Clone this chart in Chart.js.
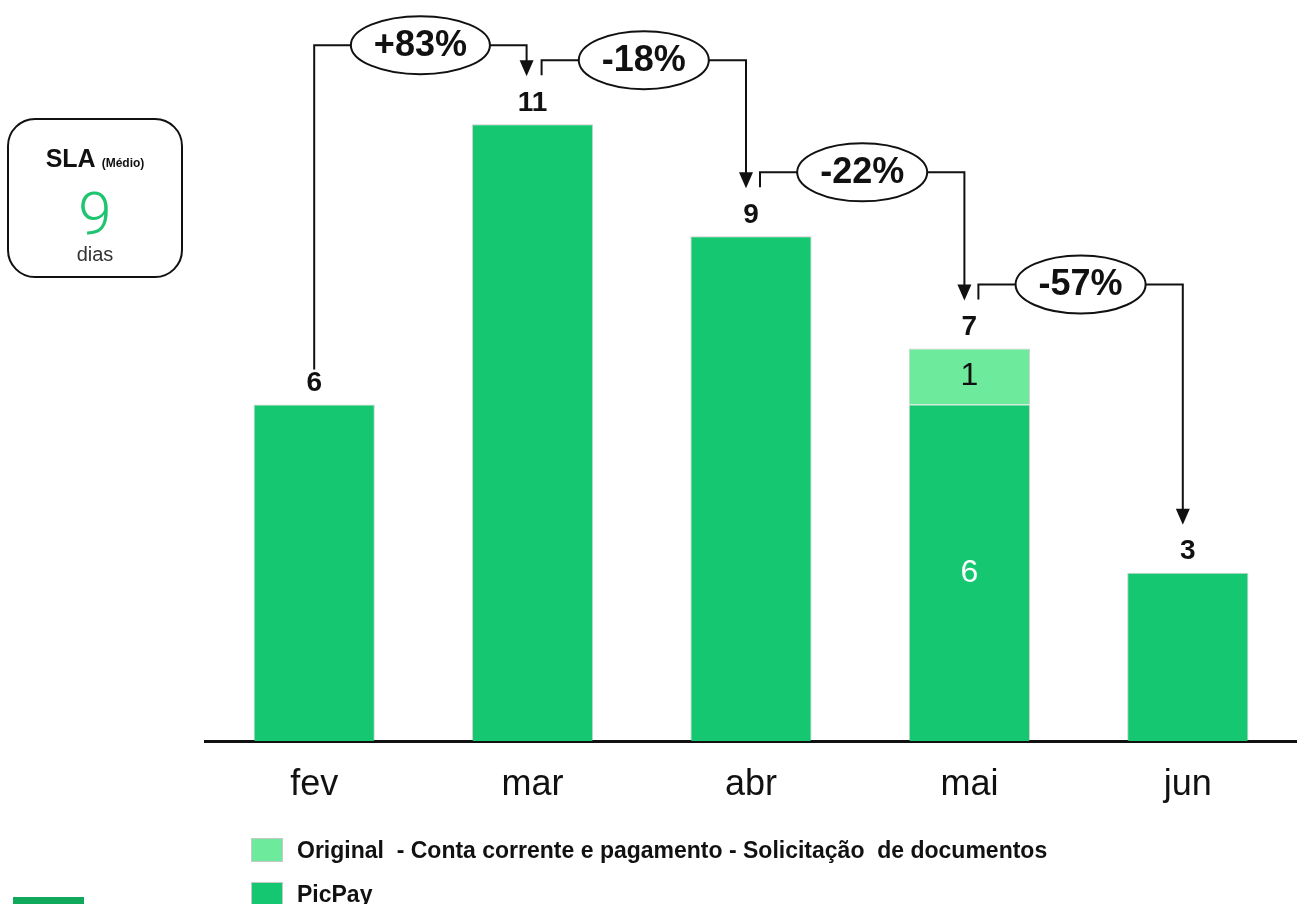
<!DOCTYPE html>
<html>
<head>
<meta charset="utf-8">
<script src="https://cdn.jsdelivr.net/npm/chart.js@4/dist/chart.umd.min.js"></script>
<style>
  body { margin: 0; background: #fff; font-family: "Liberation Sans", Arial, sans-serif; }
  #wrap { position: absolute; left: 0; top: 0; width: 1297px; height: 904px; overflow: hidden; }
  #chartBox { position: absolute; left: 0; top: 0; width: 1297px; height: 904px; }
  .sla { position: absolute; left: 7px; top: 118px; width: 172px; height: 156px; border: 2px solid #111; border-radius: 28px; text-align: center; }
  .sla .title { position: absolute; top: 24px; width: 100%; font-weight: bold; font-size: 25px; color: #111; }
  .sla .title small { font-size: 12px; }
  .sla .value { position: absolute; top: 64px; width: 100%; font-family: Roboto, sans-serif; font-weight: 300; font-size: 60px; color: #1ec46f; line-height: 60px; }
  .sla .unit { position: absolute; top: 123px; width: 100%; font-size: 20px; color: #333; }
  .legend { position: absolute; left: 251px; }
  .legend .sw { position: absolute; left: 0; width: 32px; height: 24px; box-sizing: border-box; border: 1px solid #c8c8c8; }
  .legend .txt { position: absolute; left: 46px; top: -1px; white-space: pre; font-weight: bold; font-size: 23px; color: #111; }
  .corner { position: absolute; left: 13px; top: 897px; width: 71px; height: 10px; background: #10a95c; }
</style>
</head>
<body>
<div id="wrap">
  <div id="chartBox"><canvas id="slaChart"></canvas></div>
  <div class="sla">
    <div class="title">SLA <small>(Médio)</small></div>
    <div class="value">9</div>
    <div class="unit">dias</div>
  </div>
  <div class="legend" style="top:838px"><div class="sw" style="background:#6eea9d"></div><div class="txt">Original  - Conta corrente e pagamento - Solicitação  de documentos</div></div>
  <div class="legend" style="top:882px"><div class="sw" style="background:#15c771"></div><div class="txt">PicPay</div></div>
  <div class="corner"></div>
</div>
<script>
const months = ["fev", "mar", "abr", "mai", "jun"];
const picpay = [6, 11, 9, 6, 3];
const original = [0, 0, 0, 1, 0];

const totals = picpay.map((v, i) => v + original[i]);

// draws totals, inner values and the % change connectors
const annotations = {
  id: "annotations",
  afterDatasetsDraw(chart) {
    const ctx = chart.ctx;
    const x = chart.scales.x;
    const y = chart.scales.y;
    const cx = months.map((m, i) => x.getPixelForValue(i));
    const labelY = totals.map((t) => y.getPixelForValue(t) - 21);

    ctx.save();
    ctx.textAlign = "center";
    ctx.textBaseline = "middle";
    ctx.fillStyle = "#111";
    ctx.font = "bold 28px 'Liberation Sans', Arial";
    totals.forEach((t, i) => ctx.fillText(t, cx[i], labelY[i]));

    // values inside split bars
    ctx.font = "32px 'Liberation Sans', Arial";
    months.forEach((m, i) => {
      if (!original[i]) return;
      ctx.fillStyle = "#fff";
      ctx.fillText(picpay[i], cx[i], y.getPixelForValue(picpay[i] / 2));
      ctx.fillStyle = "#111";
      ctx.fillText(original[i], cx[i], y.getPixelForValue(picpay[i] + original[i] / 2));
    });

    ctx.strokeStyle = "#111";
    ctx.fillStyle = "#111";
    ctx.lineWidth = 2;
    for (let i = 0; i < totals.length - 1; i++) {
      const up = totals[i + 1] > totals[i];
      let x0, y0, level;
      if (up) {
        x0 = cx[i];
        y0 = labelY[i] - 14;
        level = labelY[i + 1] - 58;
      } else {
        x0 = cx[i] + 9;
        y0 = labelY[i] - 28;
        level = labelY[i] - 43;
      }
      const x1 = cx[i + 1] - (up ? 6 : 5);
      const tip = labelY[i + 1] - 27;

      ctx.beginPath();
      ctx.moveTo(x0, y0);
      ctx.lineTo(x0, level);
      ctx.lineTo(x1, level);
      ctx.lineTo(x1, tip - 14);
      ctx.stroke();
      ctx.beginPath();
      ctx.moveTo(x1 - 7, tip - 16);
      ctx.lineTo(x1 + 7, tip - 16);
      ctx.lineTo(x1, tip);
      ctx.closePath();
      ctx.fill();

      const pct = Math.round(((totals[i + 1] - totals[i]) / totals[i]) * 100);
      const txt = (pct > 0 ? "+" : "") + pct + "%";
      ctx.font = "bold 36px 'Liberation Sans', Arial";
      const w = ctx.measureText(txt).width + 46;
      const mx = (x0 + x1) / 2;
      ctx.beginPath();
      ctx.ellipse(mx, level, w / 2, 29, 0, 0, Math.PI * 2);
      ctx.fillStyle = "#fff";
      ctx.fill();
      ctx.stroke();
      ctx.fillStyle = "#111";
      ctx.fillText(txt, mx, level + 1);
    }
    ctx.restore();
  },
};

const ctx = document.getElementById("slaChart").getContext("2d");
const slaChart = new Chart(ctx, {
  type: "bar",
  data: {
    labels: months,
    datasets: [
      {
        label: "PicPay",
        data: picpay,
        backgroundColor: "#15c771",
        borderColor: "rgba(120,120,120,0.35)",
        borderWidth: 1,
        barPercentage: 0.555,
        categoryPercentage: 1,
      },
      {
        label: "Original - Conta corrente e pagamento - Solicitação de documentos",
        data: original,
        backgroundColor: "#6eea9d",
        borderColor: "rgba(120,120,120,0.35)",
        borderWidth: 1,
        barPercentage: 0.555,
        categoryPercentage: 1,
      },
    ],
  },
  options: {
    responsive: true,
    maintainAspectRatio: false,
    animation: false,
    layout: { padding: { left: 205, right: 0, top: 12, bottom: 0 } },
    plugins: { legend: { display: false }, tooltip: { enabled: false } },
    scales: {
      x: {
        stacked: true,
        grid: { display: false, drawTicks: false },
        border: { display: true, color: "#111", width: 3 },
        ticks: { color: "#111", padding: 22, font: { size: 36, family: "'Liberation Sans', Arial" } },
        afterFit(scale) { scale.height = 163; },
      },
      y: {
        stacked: true,
        display: false,
        min: 0,
        max: 13,
      },
    },
  },
  plugins: [annotations],
});
</script>
</body>
</html>
